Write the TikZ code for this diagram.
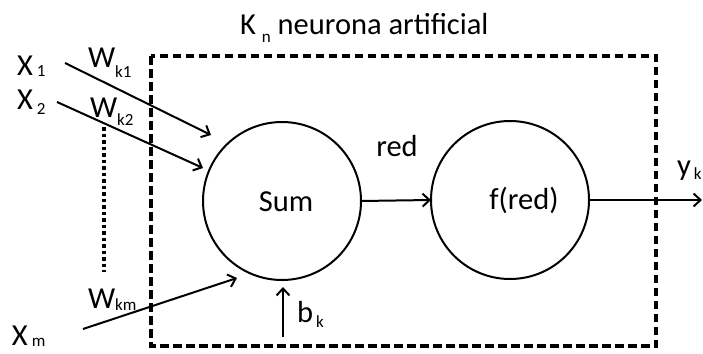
\documentclass[tikz,border=0pt]{standalone}
\usepackage{fontspec}
\setmainfont{Carlito}
\usetikzlibrary{arrows.meta}
\newcommand{\lowsub}[2]{\raisebox{-#1pt}{\fontsize{17}{17}\selectfont #2}}
\begin{document}
\begin{tikzpicture}[x=1pt,y=-1pt,
  every node/.style={inner sep=0pt, outer sep=0pt, font=\fontsize{30.5}{36}\selectfont},
  txt/.style={anchor=base west},
  neuron/.style={circle, draw, line width=2pt, minimum size=158pt},
  conn/.style={line width=2pt, -{Straight Barb[length=7pt,width=13pt,line width=2pt]}},
  frame/.style={line width=3.2pt, dash pattern=on 8.5pt off 4.5pt},
  dots/.style={line width=3.2pt, dash pattern=on 3.5pt off 3pt}]
\useasboundingbox (0,0) rectangle (703,353);
% frame
\draw[frame] (151,56) rectangle (656,346);
% neurons
\node[neuron] (sum) at (282,201) {};
\node[neuron] (f) at (510,200) {};
\node[anchor=base] (sumtxt) at (286,211) {Sum};
\node[anchor=base] (ftxt) at (524,209) {f(red)};
% labels
\node[txt] (title) at (240,35) {K\hspace{6pt}\lowsub{8}{n} neurona artificial};
\node[txt] (x1) at (17,75) {X\hspace{4pt}\lowsub{1}{1}};
\node[txt] (x2) at (17,109) {X\hspace{4pt}\lowsub{5}{2}};
\node[txt] (xm) at (12,345) {X\hspace{4pt}\lowsub{1}{m}};
\node[txt] (w1) at (88,67) {W\lowsub{10}{k1}};
\node[txt] (w2) at (90,117) {W\lowsub{8}{k2}};
\node[txt] (wm) at (88,308) {W\lowsub{2}{km}};
\node[txt] (b) at (297,322) {b\hspace{3pt}\lowsub{5}{k}};
\node[anchor=base] (red) at (397,156) {red};
\node[txt] (y) at (677,175) {y\hspace{3pt}\lowsub{4}{k}};
% coordinates
\coordinate (s1) at (65,63);
\coordinate (e1) at (211,135);
\coordinate (s2) at (57,102);
\coordinate (e2) at (203,168);
\coordinate (sm) at (83,329);
\coordinate (em) at (237,278);
\coordinate (sb) at (283,337);
\coordinate (eb) at (283,287);
\coordinate (out) at (702,200);
\coordinate (d1) at (104,127);
\coordinate (d2) at (104,272);
% connectors
\draw[conn] (s1) -- (e1);
\draw[conn] (s2) -- (e2);
\draw[conn] (sm) -- (em);
\draw[conn] (sb) -- (eb);
\draw[conn] (sum.east) -- (f.west);
\draw[conn] (f.east) -- (out);
\draw[dots] (d1) -- (d2);
\end{tikzpicture}
\end{document}
